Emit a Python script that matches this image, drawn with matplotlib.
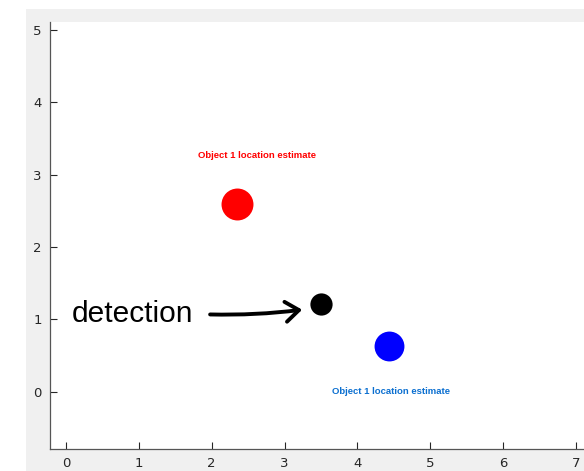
"""Object location estimates vs detection (MATLAB-style figure)."""

import matplotlib
matplotlib.use("Agg")
import matplotlib.pyplot as plt
from matplotlib.patches import FancyArrowPatch, Rectangle

# data
EST_LABEL = "Object 1 location estimate"
RED_PT = (2.35, 2.60)
BLUE_PT = (4.43, 0.64)
DET_PT = (3.50, 1.21)
RED_LABEL_XY = (2.62, 3.27)
BLUE_LABEL_XY = (4.46, 0.01)
DET_LABEL_XY = (0.08, 1.08)
XTICKS = [0, 1, 2, 3, 4, 5, 6, 7]
YTICKS = [0, 1, 2, 3, 4, 5]

AXIS = "#262626"
PANEL = "#F0F0F0"

fig = plt.figure(figsize=(5.84, 4.71), dpi=100)
fig.patch.set_facecolor("white")
fig.add_artist(Rectangle((26 / 584, 0), 1, 1 - 9 / 471, transform=fig.transFigure,
                         facecolor=PANEL, edgecolor="none", zorder=0))

W, H = 584, 471
left, right, top, bottom = 50, 605, 22, 449
ax = fig.add_axes([left / W, 1 - bottom / H, (right - left) / W, (bottom - top) / H])
ax.set_facecolor("white")
ax.set_xlim(-0.22, 7.40)
ax.set_ylim(-0.79, 5.11)
ax.set_xticks(XTICKS)
ax.set_yticks(YTICKS)
ax.tick_params(direction="in", length=5, width=0.8, color=AXIS, labelcolor=AXIS,
               labelsize=9.5, pad=6)
for side in ("top", "right"):
    ax.spines[side].set_visible(False)
for side in ("left", "bottom"):
    ax.spines[side].set_color("#555555")
    ax.spines[side].set_linewidth(0.9)

ax.plot(*RED_PT, "o", color="#FF0000", markersize=23, markeredgewidth=0)
ax.plot(*BLUE_PT, "o", color="#0000FF", markersize=21.5, markeredgewidth=0)
ax.plot(*DET_PT, "o", color="black", markersize=16, markeredgewidth=0)

ax.text(*RED_LABEL_XY, EST_LABEL, color="#FF0000", fontsize=6.8, weight="bold",
        ha="center", va="center", family="Liberation Sans")
ax.text(*BLUE_LABEL_XY, EST_LABEL, color="#0B6FD0", fontsize=6.8, weight="bold",
        ha="center", va="center", family="Liberation Sans")
ax.text(*DET_LABEL_XY, "detection", color="black", fontsize=21.5,
        ha="left", va="center", family="Liberation Sans")

ax.add_patch(FancyArrowPatch((1.94, 1.07), (3.28, 1.14), connectionstyle="arc3,rad=0.04",
                             arrowstyle="->,head_length=6,head_width=4.5", mutation_scale=1.6,
                             linewidth=2.8, color="black", capstyle="round"))

fig.savefig("out.png", dpi=100)
